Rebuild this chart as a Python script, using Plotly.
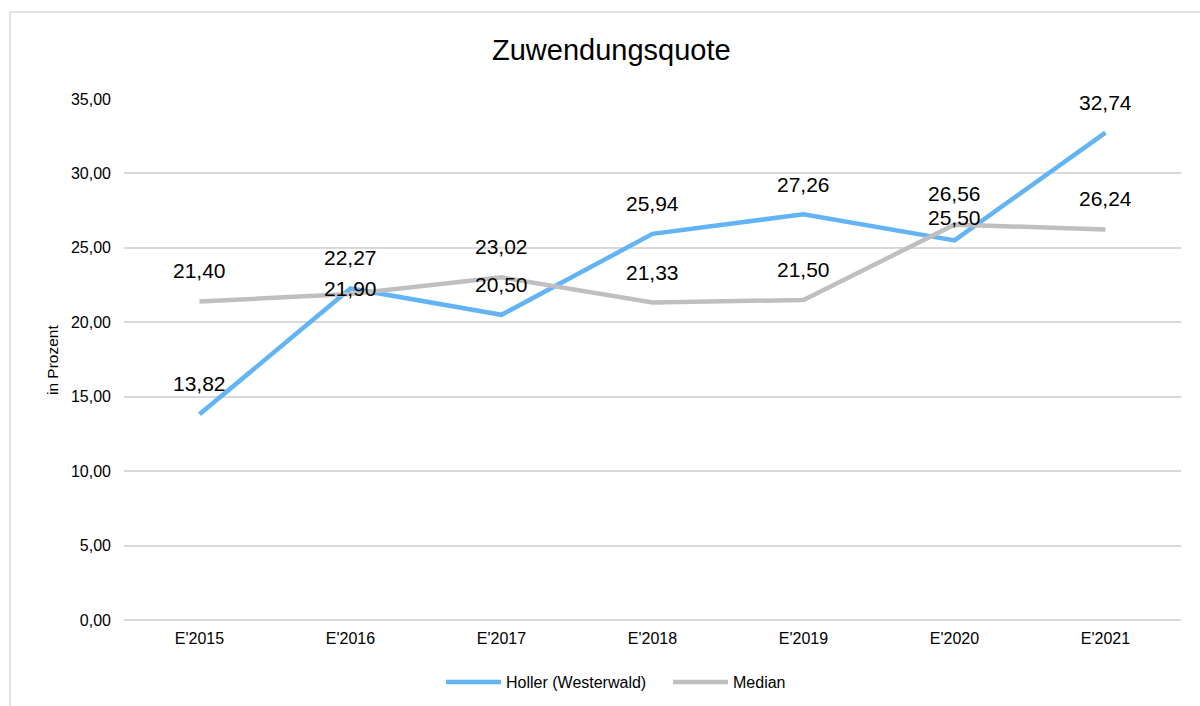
import plotly.graph_objects as go

categories = ["E'2015", "E'2016", "E'2017", "E'2018", "E'2019", "E'2020", "E'2021"]
holler = [13.82, 22.27, 20.50, 25.94, 27.26, 25.50, 32.74]
median = [21.40, 21.90, 23.02, 21.33, 21.50, 26.56, 26.24]
y_ticks = [0, 5, 10, 15, 20, 25, 30, 35]

# label vertical offsets (px) as placed in the reference
holler_shift = [31, 31, 30, 30, 30, 23, 30]
median_shift = [31, 6, 31, 30, 30, 31, 31]

FONT = "Liberation Sans, Arial, sans-serif"
BLUE = "#63B4F5"
GRAY = "#BFBFBF"

def fmt(v):
    return f"{v:.2f}".replace(".", ",")

fig = go.Figure()
fig.add_trace(go.Scatter(x=categories, y=holler, mode="lines", name="Holler (Westerwald)",
                         line=dict(color=BLUE, width=4.5)))
fig.add_trace(go.Scatter(x=categories, y=median, mode="lines", name="Median",
                         line=dict(color=GRAY, width=4.5)))

annotations = []
for series, shifts in ((holler, holler_shift), (median, median_shift)):
    for c, v, s in zip(categories, series, shifts):
        annotations.append(dict(x=c, y=v, text=fmt(v), showarrow=False, yshift=s,
                                xanchor="center", yanchor="middle",
                                xref="x", yref="y", font=dict(family=FONT, size=21, color="#000")))

L, R, T, B = 124, 19, 99, 86
W, H = 1200, 706
pw, ph = W - L - R, H - T - B

def px_x(p):
    return (p - L) / pw

def px_y(q):
    return (H - B - q) / ph

annotations.append(dict(x=px_x(52), y=px_y(360), xref="paper", yref="paper", text="in Prozent",
                        xanchor="center", yanchor="middle",
                        textangle=-90, showarrow=False, font=dict(family=FONT, size=15.5, color="#000")))
annotations.append(dict(x=px_x(611), y=px_y(50), xref="paper", yref="paper", text="Zuwendungsquote",
                        xanchor="center", yanchor="middle",
                        showarrow=False, font=dict(family=FONT, size=29, color="#000")))

shapes = [
    dict(type="line", xref="paper", yref="paper", x0=px_x(10), x1=px_x(1210), y0=px_y(12), y1=px_y(12),
         line=dict(color="#D9D9D9", width=1.5)),
    dict(type="line", xref="paper", yref="paper", x0=px_x(10), x1=px_x(10), y0=px_y(12), y1=px_y(715),
         line=dict(color="#D9D9D9", width=1.5)),
]

fig.update_layout(
    width=W, height=H,
    margin=dict(l=L, r=R, t=T, b=B, autoexpand=False),
    paper_bgcolor="white", plot_bgcolor="white",
    font=dict(family=FONT, size=16, color="#000"),
    showlegend=True,
    legend=dict(orientation="h", x=441 / W, xanchor="left", xref="container",
                y=1 - 682 / H, yanchor="middle", yref="container",
                itemwidth=55, entrywidth=157, entrywidthmode="pixels",
                font=dict(family=FONT, size=16, color="#000")),
    annotations=annotations,
    shapes=shapes,
)
fig.update_xaxes(range=[-0.5, 6.5], showgrid=False, showline=False, zeroline=False, ticks="",
                 ticklabelstandoff=7, tickfont=dict(size=16, color="#000"))
fig.update_yaxes(range=[0, 35], tickvals=y_ticks, ticktext=[fmt(v) for v in y_ticks],
                 showgrid=True, gridcolor="#D9D9D9", gridwidth=1.5,
                 zeroline=True, zerolinecolor="#D9D9D9", zerolinewidth=1.5,
                 showline=False, ticks="", ticklabelstandoff=12,
                 tickfont=dict(size=16, color="#000"))

fig.write_html("out.html", config={"displayModeBar": False},
               post_script="document.body.style.margin='0';")
